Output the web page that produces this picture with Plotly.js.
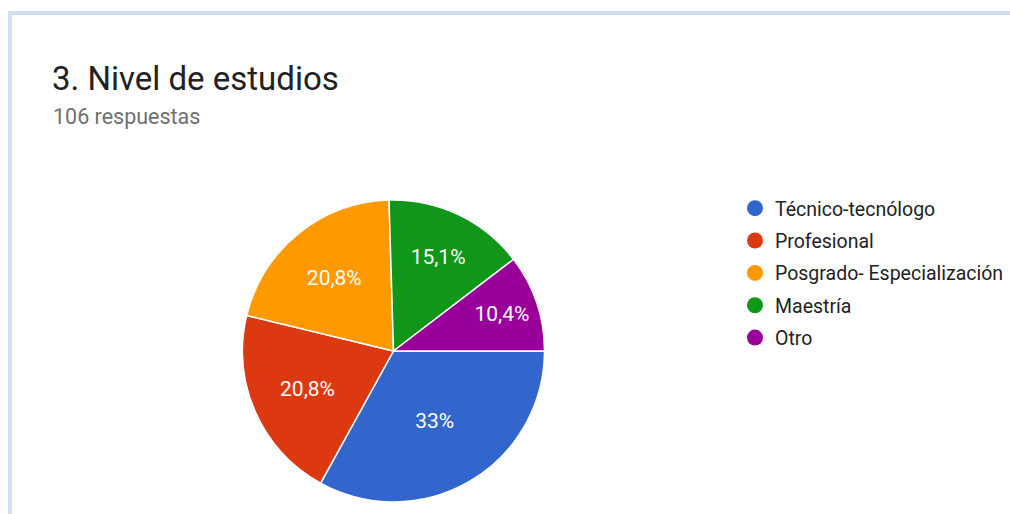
<!DOCTYPE html>
<html>
<head>
<meta charset="utf-8">
<script src="https://cdn.plot.ly/plotly-3.0.1.min.js"></script>
<style>
  html, body { margin: 0; padding: 0; background: #ffffff; }
  #chart { width: 1010px; height: 514px; }
</style>
</head>
<body>
<div id="chart"></div>
<script>
// ---- data ----
const categories = ['Técnico-tecnólogo', 'Profesional', 'Posgrado- Especialización', 'Maestría', 'Otro'];
const counts = [35, 22, 22, 16, 11];
const colors = ['#3366cc', '#dc3912', '#ff9900', '#109618', '#990099'];
const titleText = '3. Nivel de estudios';
const subtitleText = '106 respuestas';

const W = 1010, H = 514;
const px = v => v / W;
const py = v => 1 - v / H;
const R = 151;

const pie = {
  type: 'pie',
  labels: categories,
  values: counts,
  sort: false,
  direction: 'clockwise',
  rotation: 90,
  marker: { colors: colors, line: { color: '#ffffff', width: 1.5 } },
  textinfo: 'percent',
  textposition: 'inside',
  insidetextorientation: 'horizontal',
  textfont: { family: 'Roboto, Arial, sans-serif', size: 21, color: '#ffffff' },
  hoverinfo: 'label+percent',
  showlegend: false,
  domain: { x: [px(393.5 - R), px(393.5 + R)], y: [py(351 + R), py(351 - R)] }
};

const legendTraces = categories.map((c, i) => ({
  type: 'scatter',
  mode: 'markers',
  x: [null], y: [null],
  name: c,
  legendgroup: 'g' + i,
  marker: { symbol: 'circle', size: 20, color: colors[i] },
  hoverinfo: 'skip'
}));

const layout = {
  width: W, height: H,
  margin: { l: 0, r: 0, t: 0, b: 0 },
  paper_bgcolor: '#ffffff',
  plot_bgcolor: 'rgba(0,0,0,0)',
  separators: ',.',
  font: { family: 'Roboto, Arial, sans-serif', color: '#222222' },
  xaxis: { visible: false, fixedrange: true },
  yaxis: { visible: false, fixedrange: true },
  title: {
    text: titleText,
    font: { family: 'Roboto, Arial, sans-serif', size: 33, color: '#212121' },
    xref: 'paper', yref: 'paper',
    x: px(52), xanchor: 'left',
    y: py(78), yanchor: 'middle'
  },
  annotations: [{
    text: subtitleText,
    xref: 'paper', yref: 'paper',
    x: px(51), xanchor: 'left',
    y: py(117), yanchor: 'middle',
    showarrow: false,
    font: { family: 'Roboto, Arial, sans-serif', size: 21.5, color: '#707070' }
  }],
  showlegend: true,
  legend: {
    x: px(735), xanchor: 'left',
    y: py(189), yanchor: 'top',
    traceorder: 'grouped',
    tracegroupgap: 4,
    font: { family: 'Roboto, Arial, sans-serif', size: 19.5, color: '#222222' },
    bgcolor: 'rgba(0,0,0,0)',
    borderwidth: 0
  },
  shapes: [
    { type: 'line', xref: 'paper', yref: 'paper', x0: px(10), x1: px(10), y0: -0.05, y1: py(11), line: { color: '#cfe0f3', width: 4 } },
    { type: 'line', xref: 'paper', yref: 'paper', x0: px(8), x1: 1.05, y0: py(13), y1: py(13), line: { color: '#cfe0f3', width: 4 } }
  ]
};

Plotly.newPlot('chart', [pie].concat(legendTraces), layout, { displayModeBar: false, staticPlot: true });
</script>
</body>
</html>
